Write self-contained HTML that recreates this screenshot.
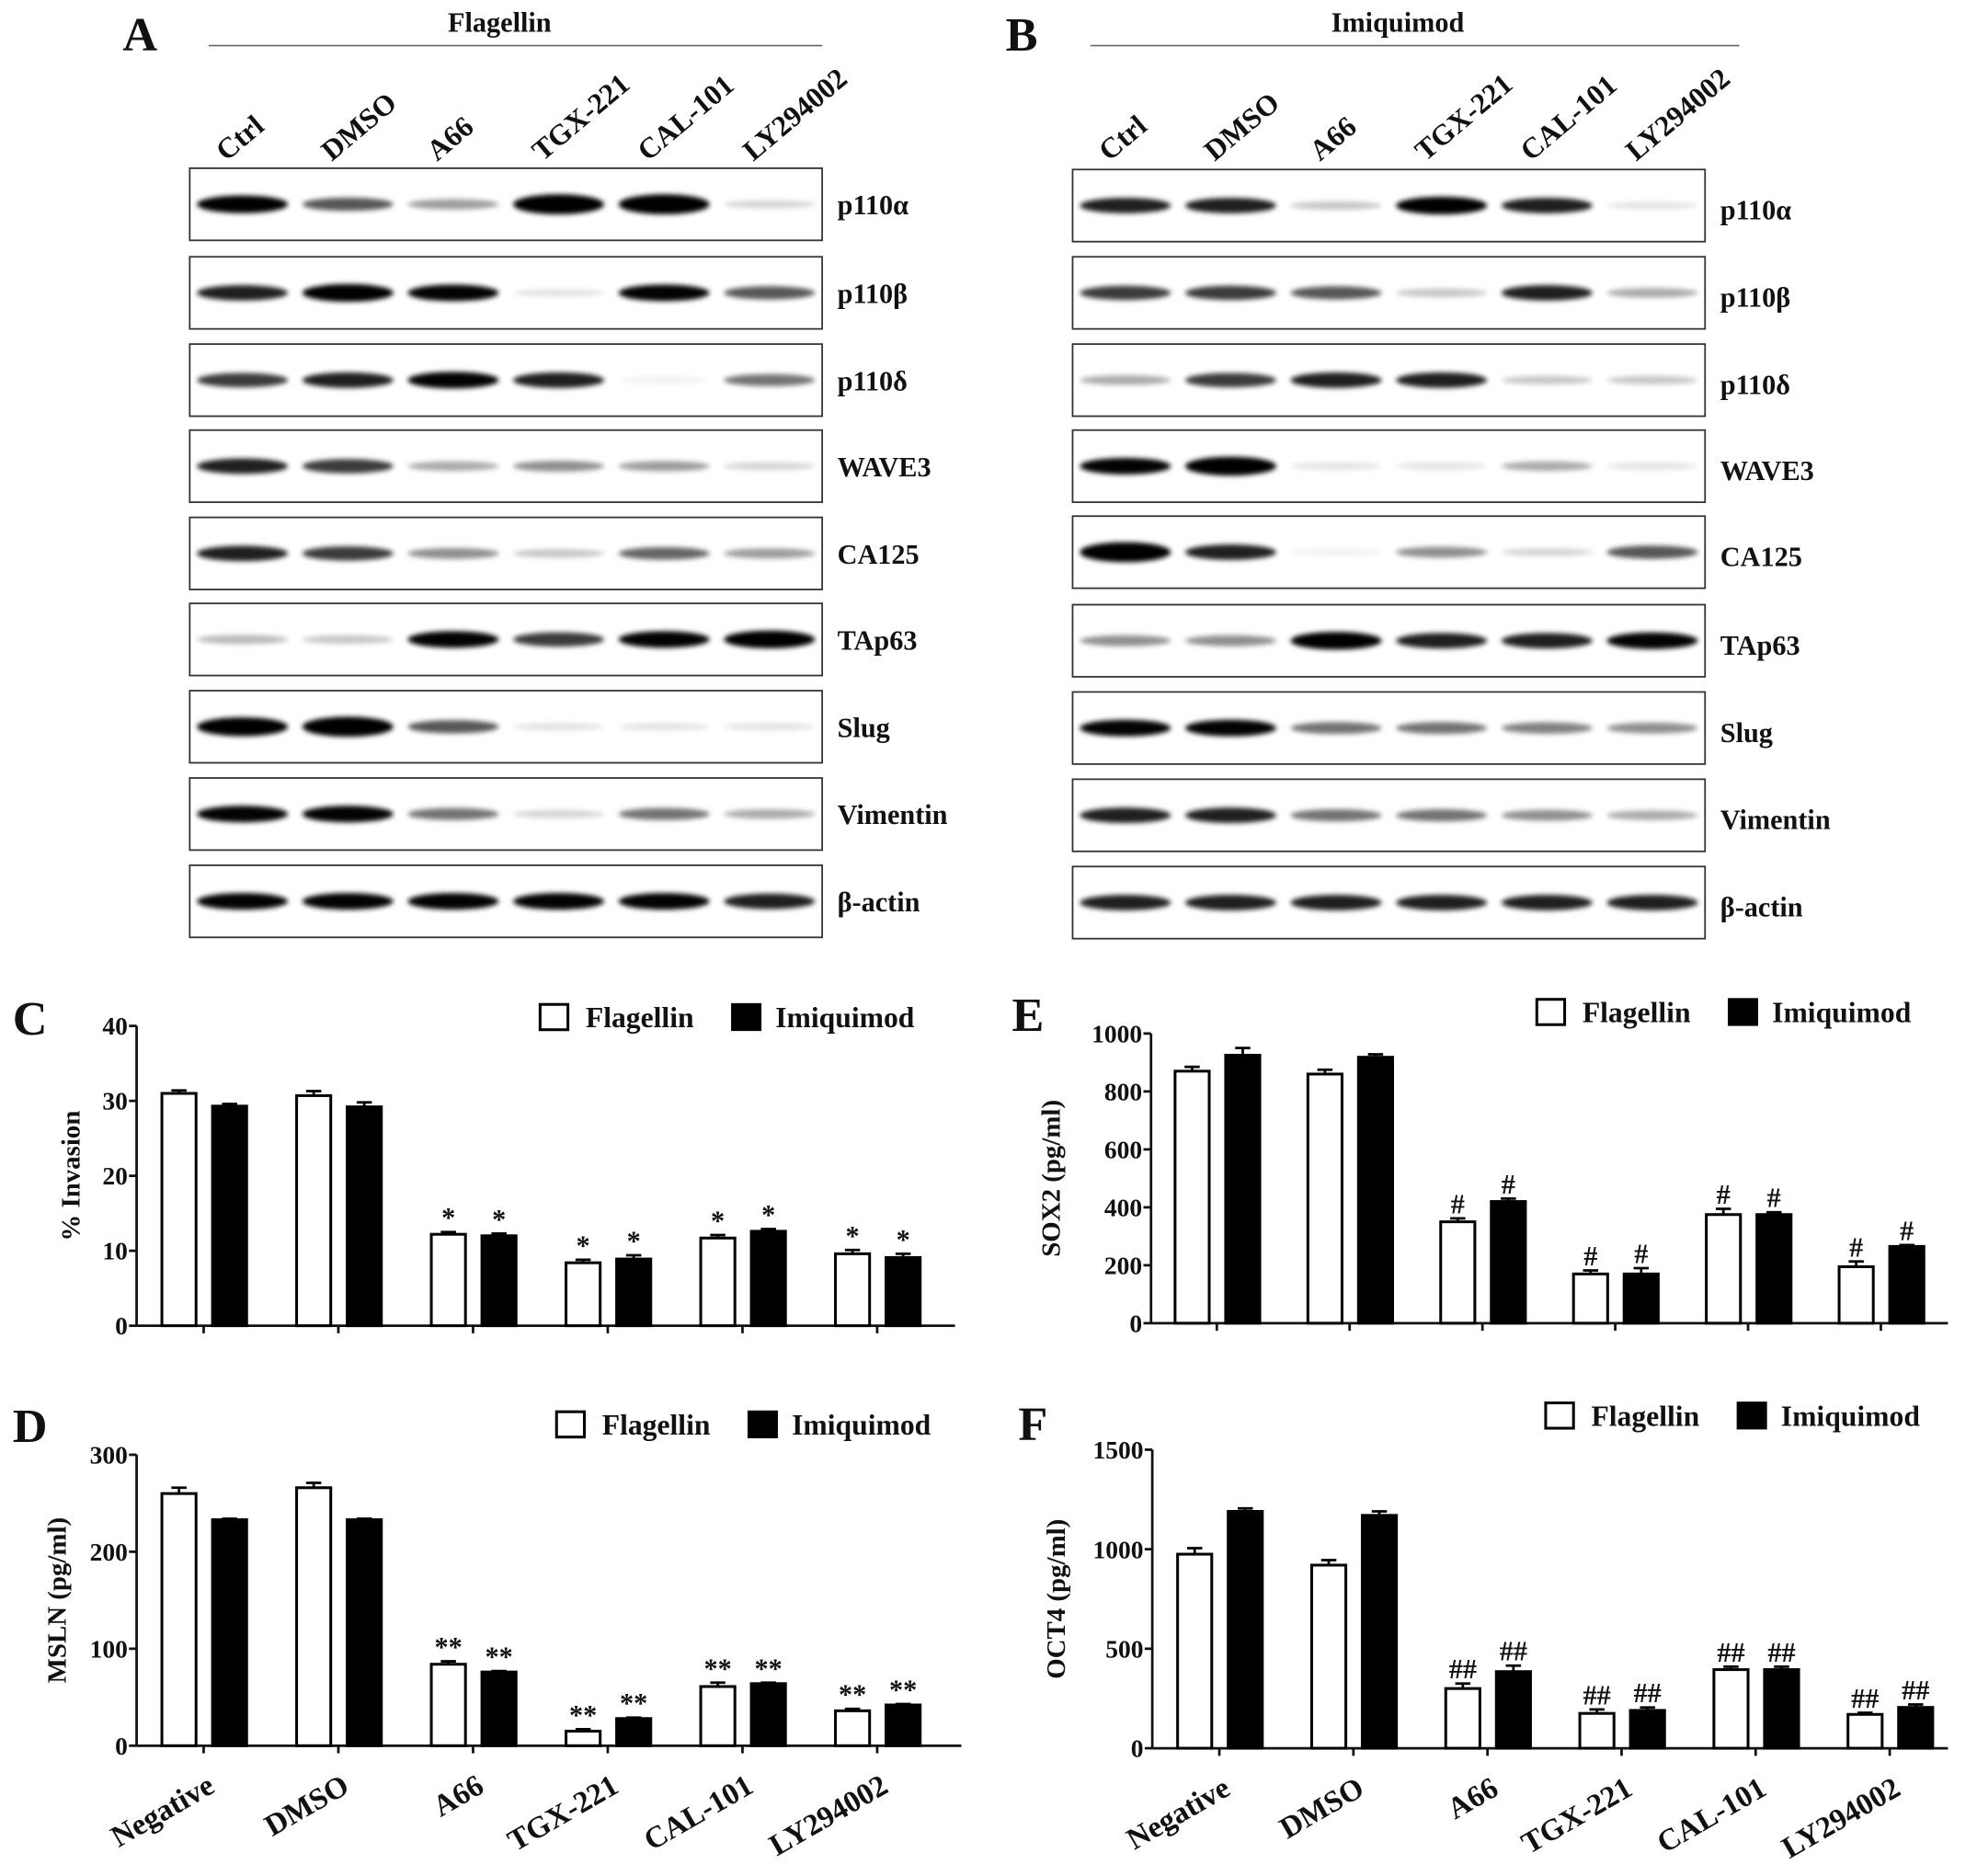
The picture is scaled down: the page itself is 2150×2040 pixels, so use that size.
<!DOCTYPE html>
<html><head><meta charset="utf-8"><style>
html,body{margin:0;padding:0;background:#fff;}
svg{display:block;}
text{font-family:"Liberation Serif",serif;font-weight:bold;fill:#111;}
</style></head><body>
<svg id="fig" width="2150" height="2040" viewBox="0 0 1563 1483" preserveAspectRatio="none" xmlns="http://www.w3.org/2000/svg">
<defs><filter id="blur" x="-20%" y="-20%" width="140%" height="140%"><feGaussianBlur stdDeviation="2"/></filter></defs>
<g id="blots"></g>
<g id="bands" filter="url(#blur)"></g>
<g id="charts"></g>
</svg>
<script>
// ---- Western blot data ----
const blotProteins = ["p110α","p110β","p110δ","WAVE3","CA125","TAp63","Slug","Vimentin","β-actin"];
const laneLabels = ["Ctrl","DMSO","A66","TGX-221","CAL-101","LY294002"];
const blotA = [[1,0.6,0.35,1.2,1.2,0.15],[0.8,1,0.9,0.1,0.9,0.6],[0.7,0.8,0.9,0.8,0.05,0.5],[0.8,0.7,0.3,0.4,0.35,0.15],[0.8,0.7,0.4,0.2,0.55,0.35],[0.25,0.2,0.9,0.7,0.9,1],[1.1,1.2,0.6,0.1,0.1,0.1],[0.9,0.9,0.5,0.15,0.5,0.3],[0.9,0.9,0.9,0.9,0.9,0.8]];
const blotB = [[0.8,0.8,0.2,1,0.8,0.1],[0.7,0.7,0.6,0.2,0.8,0.3],[0.3,0.7,0.8,0.8,0.2,0.2],[0.9,1.1,0.1,0.1,0.3,0.1],[1.2,0.8,0.05,0.4,0.15,0.6],[0.4,0.4,1,0.8,0.8,0.9],[0.9,0.9,0.5,0.5,0.45,0.4],[0.8,0.8,0.5,0.5,0.4,0.3],[0.8,0.8,0.8,0.8,0.8,0.8]];
// ---- Chart data ----
const groups = ["Negative","DMSO","A66","TGX-221","CAL-101","LY294002"];
const invFlag = [31,30.7,12.2,8.4,11.7,9.6];
const invImiq = [29.3,29.2,12,8.9,12.6,9.1];
const invErrF = [0.4,0.6,0.3,0.4,0.4,0.5];
const invErrI = [0.3,0.6,0.3,0.5,0.3,0.5];
const invTicks = [0,10,20,30,40];
const mslnFlag = [260,266,84,15,61,36];
const mslnImiq = [233,233,76,28,64,42];
const mslnErrF = [6,5,3,2,4,2];
const mslnErrI = [1,1,1,1,1,1];
const mslnTicks = [0,100,200,300];
const sox2Flag = [870,860,350,170,375,195];
const sox2Imiq = [925,918,420,170,375,265];
const sox2ErrF = [15,15,12,12,20,18];
const sox2ErrI = [25,10,10,20,8,5];
const sox2Ticks = [0,200,400,600,800,1000];
const oct4Flag = [975,920,300,175,395,170];
const oct4Imiq = [1190,1170,385,190,395,205];
const oct4ErrF = [30,25,25,20,15,8];
const oct4ErrI = [15,20,30,15,15,15];
const oct4Ticks = [0,500,1000,1500];

const NS="http://www.w3.org/2000/svg";
function mk(tag, parent, attrs){const e=document.createElementNS(NS,tag);for(const k in attrs){e.setAttribute(k,String(attrs[k]));}parent.appendChild(e);return e;}

const blots=document.getElementById('blots');
const bands=document.getElementById('bands');
function drawBlot(letter,lx,title,tx,lineX0,lineX1,boxX,rowsY,data,labelShift){
  const g=mk('g',blots,{});
  
  
  const L=mk('text',g,{x:lx,y:40,'font-size':38});L.textContent=letter;
  
  
  const T=mk('text',g,{x:tx,y:25,'font-size':22,'text-anchor':'middle'});T.textContent=title;
  
  
  const ln=mk('line',g,{x1:lineX0,y1:36,x2:lineX1,y2:36,stroke:'#666','stroke-width':1.2});
  
  
  const laneW=500/6;
  for(let i=0;i<laneLabels.length;i++){
    const x=boxX+laneW*(i+0.25)+8, y=128;
    const t=mk('text',g,{x:x,y:y,'font-size':23,transform:'rotate(-40 '+x+' '+y+')'});t.textContent=laneLabels[i];
    
    
  }
  for(let r=0;r<rowsY.length;r++){
    const y0=rowsY[r], h=57;
    const box=mk('rect',g,{x:boxX,y:y0,width:500,height:h,fill:'none',stroke:'#333','stroke-width':1.3});
    
    
    const row=data[r];
    for(let i=0;i<row.length;i++){
      const v=row[i];
      const cx=boxX+laneW*(i+0.5);
      const vv=v>1.2?1.2:v;
      const op=v*1.1>1?1:v*1.1;
      const b=mk('ellipse',bands,{cx:cx,cy:y0+h/2,rx:36,ry:2.5+4.5*vv,fill:'#000','fill-opacity':op});
      
      
    }
    const t=mk('text',g,{x:boxX+512,y:y0+h/2+8+labelShift,'font-size':22});t.textContent=blotProteins[r];
    
    
  }
}
try{drawBlot('A',97,'Flagellin',395,165,650,150,[133,203,272,340,409,477,546,615,684],blotA,0);}catch(e){}
try{drawBlot('B',795,'Imiquimod',1105,862,1375,848,[134,203,272,340,408,478,547,616,685],blotB,3);}catch(e){}

const charts=document.getElementById('charts');
function drawChart(o){
  const g=mk('g',charts,{});
  
  
  const max=o.ticks[o.ticks.length-1];
  const Y=v=>o.y0-(v/max)*(o.y0-o.y1);
  const X=i=>o.x0+o.gOff+i*o.gStep;
  const L=mk('text',g,{x:o.lx,y:o.ly,'font-size':38});L.textContent=o.letter;
  
  
  const ya=mk('line',g,{x1:o.x0,y1:o.y1,x2:o.x0,y2:o.y0,stroke:'#111','stroke-width':2});
  
  
  const xa=mk('line',g,{x1:o.x0,y1:o.y0,x2:o.x2,y2:o.y0,stroke:'#111','stroke-width':2});
  
  
  for(let k=0;k<o.ticks.length;k++){
    const t=o.ticks[k];
    const tk=mk('line',g,{x1:o.x0-6,y1:Y(t),x2:o.x0,y2:Y(t),stroke:'#111','stroke-width':2});
    
    
    const tl=mk('text',g,{x:o.x0-7,y:Y(t)+7,'font-size':20,'text-anchor':'end'});tl.textContent=t;
    
    
  }
  const ym=(o.y0+o.y1)/2;
  const yt=mk('text',g,{x:o.ytx,y:ym,'font-size':21,'text-anchor':'middle',transform:'rotate(-90 '+o.ytx+' '+ym+')'});yt.textContent=o.ytitle;
  
  
  const bw=27;
  for(let i=0;i<o.f.length;i++){
    const c=X(i);
    const xt=mk('line',g,{x1:c,y1:o.y0,x2:c,y2:o.y0+6,stroke:'#111','stroke-width':2});
    
    
    const specs=[[o.f[i],o.ef[i],c-33,'#fff','flagellin'],[o.im[i],o.ei[i],c+7,'#000','imiquimod']];
    for(let s=0;s<2;s++){
      const val=specs[s][0],err=specs[s][1],bx=specs[s][2],fill=specs[s][3],nm=specs[s][4];
      const eb=mk('line',g,{x1:bx+bw/2,y1:Y(val),x2:bx+bw/2,y2:Y(val+err),stroke:'#000','stroke-width':2});
      
      
      const cap=mk('line',g,{x1:bx+bw/2-6,y1:Y(val+err),x2:bx+bw/2+6,y2:Y(val+err),stroke:'#000','stroke-width':2});
      
      
      const r=mk('rect',g,{x:bx,y:Y(val),width:bw,height:o.y0-Y(val),fill:fill,stroke:'#000','stroke-width':2.2});
      
      
      if(i>=2){
        const sm=mk('text',g,{x:bx+bw/2,y:Y(val+err)-4,'font-size':o.sigSize,'font-weight':'normal','text-anchor':'middle'});sm.textContent=o.sig;
        
        
      }
    }
    if(o.xlabels){
      const lx=c+10, ly=o.y0+36;
      const t=mk('text',g,{x:lx,y:ly,'font-size':24,'text-anchor':'end',transform:'rotate(-30 '+lx+' '+ly+')'});t.textContent=groups[i];
      
      
    }
  }
  const lb1=mk('rect',g,{x:o.legX,y:o.legY-10,width:22,height:20,fill:'#fff',stroke:'#000','stroke-width':2.2});
  
  
  const lt1=mk('text',g,{x:o.legX+36,y:o.legY+8,'font-size':23});lt1.textContent='Flagellin';
  
  
  const lb2=mk('rect',g,{x:o.legX+152,y:o.legY-10,width:22,height:20,fill:'#000',stroke:'#000','stroke-width':2});
  
  
  const lt2=mk('text',g,{x:o.legX+186,y:o.legY+8,'font-size':23});lt2.textContent='Imiquimod';
  
  
}
try{drawChart({letter:'C',lx:10,ly:818,x0:108,x2:755,y0:1048,y1:811,gOff:53,gStep:106.5,ticks:invTicks,f:invFlag,im:invImiq,ef:invErrF,ei:invErrI,ytitle:'% Invasion',ytx:63,sig:'*',sigSize:22,legX:427,legY:804,xlabels:false});}catch(e){}
try{drawChart({letter:'D',lx:10,ly:1140,x0:108,x2:760,y0:1380,y1:1150,gOff:53,gStep:106.5,ticks:mslnTicks,f:mslnFlag,im:mslnImiq,ef:mslnErrF,ei:mslnErrI,ytitle:'MSLN  (pg/ml)',ytx:52,sig:'**',sigSize:22,legX:440,legY:1126,xlabels:true});}catch(e){}
try{drawChart({letter:'E',lx:800,ly:815,x0:910,x2:1540,y0:1046,y1:817,gOff:52,gStep:105,ticks:sox2Ticks,f:sox2Flag,im:sox2Imiq,ef:sox2ErrF,ei:sox2ErrI,ytitle:'SOX2 (pg/ml)',ytx:838,sig:'#',sigSize:22,legX:1215,legY:800,xlabels:false});}catch(e){}
try{drawChart({letter:'F',lx:805,ly:1138,x0:911,x2:1540,y0:1382,y1:1146,gOff:53,gStep:106,ticks:oct4Ticks,f:oct4Flag,im:oct4Imiq,ef:oct4ErrF,ei:oct4ErrI,ytitle:'OCT4 (pg/ml)',ytx:842,sig:'##',sigSize:22,legX:1222,legY:1119,xlabels:true});}catch(e){}
</script>
</body></html>
